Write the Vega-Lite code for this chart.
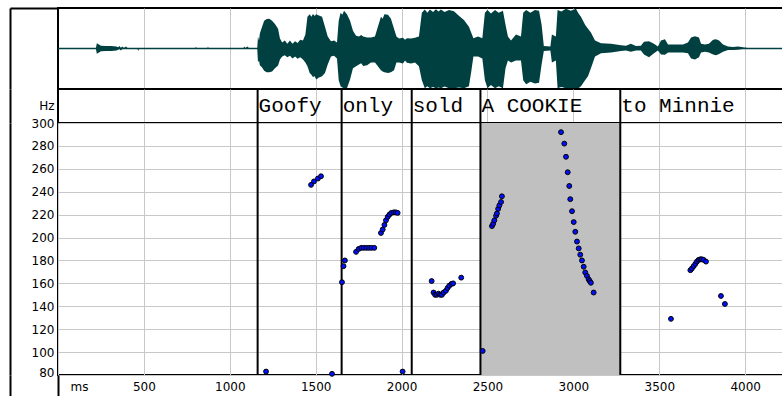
{
  "$schema": "https://vega.github.io/schema/vega-lite/v6.json",
  "autosize": {"type": "pad"},
  "padding": {"left": 8, "top": 6, "right": 0, "bottom": 0},
  "background": "white",
  "spacing": 0,
  "bounds": "flush",
  "config": {
    "view": {"stroke": "#000", "strokeWidth": 2},
    "axis": {
      "labelFont": "DejaVu Sans", "labelFontSize": 12, "labelColor": "#000",
      "titleFont": "DejaVu Sans", "titleFontSize": 12, "titleColor": "#000", "titleFontWeight": "normal",
      "gridColor": "#c8c8c8", "gridWidth": 1, "gridOpacity": 1,
      "ticks": false, "tickSize": 0, "domain": false, "labelFlush": false, "labelOverlap": false
    }
  },
  "datasets": {
    "wave": [
      {"ms":0,"top":0.02,"bot":-0.02},{"ms":221,"top":0.02,"bot":-0.02},{"ms":226,"top":0.13,"bot":-0.13},{"ms":236,"top":0.11,"bot":-0.11},{"ms":250,"top":0.07,"bot":-0.07},{"ms":280,"top":0.06,"bot":-0.06},{"ms":310,"top":0.06,"bot":-0.06},{"ms":340,"top":0.05,"bot":-0.05},{"ms":350,"top":0.03,"bot":-0.03},{"ms":358,"top":0.06,"bot":-0.02},{"ms":366,"top":0.02,"bot":-0.05},{"ms":374,"top":0.05,"bot":-0.02},{"ms":384,"top":0.02,"bot":-0.02},{"ms":396,"top":0.05,"bot":-0.02},{"ms":404,"top":0.02,"bot":-0.02},{"ms":463,"top":0.02,"bot":-0.02},{"ms":467,"top":0.02,"bot":-0.06},{"ms":471,"top":0.02,"bot":-0.02},{"ms":800,"top":0.02,"bot":-0.02},{"ms":803,"top":0.05,"bot":-0.02},{"ms":806,"top":0.02,"bot":-0.02},{"ms":870,"top":0.02,"bot":-0.02},{"ms":873,"top":0.05,"bot":-0.02},{"ms":876,"top":0.02,"bot":-0.02},{"ms":1080,"top":0.02,"bot":-0.02},{"ms":1084,"top":0.05,"bot":-0.02},{"ms":1090,"top":0.02,"bot":-0.02},{"ms":1104,"top":0.05,"bot":-0.02},{"ms":1110,"top":0.02,"bot":-0.02},{"ms":1160,"top":0.02,"bot":-0.02},
      {"ms":1164,"top":0.3,"bot":-0.35},{"ms":1170,"top":0.2,"bot":-0.3},{"ms":1175,"top":0.38,"bot":-0.42},{"ms":1188,"top":0.55,"bot":-0.48},{"ms":1200,"top":0.7,"bot":-0.56},{"ms":1215,"top":0.74,"bot":-0.6},{"ms":1230,"top":0.75,"bot":-0.6},{"ms":1246,"top":0.7,"bot":-0.58},{"ms":1263,"top":0.62,"bot":-0.5},{"ms":1281,"top":0.5,"bot":-0.43},{"ms":1292,"top":0.25,"bot":-0.28},{"ms":1305,"top":0.15,"bot":-0.2},{"ms":1320,"top":0.2,"bot":-0.17},{"ms":1335,"top":0.12,"bot":-0.22},{"ms":1350,"top":0.2,"bot":-0.18},{"ms":1365,"top":0.12,"bot":-0.25},{"ms":1380,"top":0.18,"bot":-0.2},{"ms":1395,"top":0.14,"bot":-0.26},{"ms":1410,"top":0.22,"bot":-0.22},{"ms":1426,"top":0.2,"bot":-0.28},{"ms":1440,"top":0.35,"bot":-0.35},{"ms":1452,"top":0.8,"bot":-0.45},{"ms":1465,"top":0.86,"bot":-0.62},{"ms":1475,"top":0.8,"bot":-0.66},{"ms":1484,"top":0.87,"bot":-0.72},{"ms":1495,"top":0.82,"bot":-0.7},{"ms":1502,"top":0.86,"bot":-0.78},{"ms":1519,"top":0.83,"bot":-0.73},{"ms":1537,"top":0.8,"bot":-0.7},{"ms":1554,"top":0.55,"bot":-0.62},{"ms":1570,"top":0.3,"bot":-0.4},{"ms":1589,"top":0.18,"bot":-0.2},{"ms":1607,"top":0.2,"bot":-0.18},{"ms":1624,"top":0.15,"bot":-0.25},{"ms":1634,"top":0.7,"bot":-0.8},{"ms":1645,"top":0.9,"bot":-0.95},{"ms":1655,"top":0.85,"bot":-0.98},{"ms":1665,"top":0.95,"bot":-1.0},{"ms":1682,"top":0.86,"bot":-1.0},{"ms":1700,"top":0.7,"bot":-0.78},{"ms":1717,"top":0.45,"bot":-0.5},{"ms":1735,"top":0.32,"bot":-0.45},{"ms":1752,"top":0.3,"bot":-0.4},{"ms":1765,"top":0.34,"bot":-0.37},{"ms":1776,"top":0.3,"bot":-0.44},{"ms":1799,"top":0.28,"bot":-0.42},{"ms":1822,"top":0.28,"bot":-0.35},{"ms":1845,"top":0.3,"bot":-0.35},{"ms":1862,"top":0.55,"bot":-0.45},{"ms":1880,"top":0.8,"bot":-0.55},{"ms":1890,"top":0.75,"bot":-0.58},{"ms":1900,"top":0.86,"bot":-0.6},{"ms":1921,"top":0.85,"bot":-0.62},{"ms":1938,"top":0.75,"bot":-0.6},{"ms":1956,"top":0.5,"bot":-0.55},{"ms":1970,"top":0.3,"bot":-0.35},{"ms":1985,"top":0.25,"bot":-0.35},{"ms":2008,"top":0.27,"bot":-0.38},{"ms":2020,"top":0.22,"bot":-0.3},{"ms":2031,"top":0.26,"bot":-0.36},{"ms":2055,"top":0.25,"bot":-0.38},{"ms":2078,"top":0.27,"bot":-0.35},{"ms":2101,"top":0.3,"bot":-0.45},{"ms":2118,"top":0.9,"bot":-0.8},{"ms":2135,"top":0.98,"bot":-1.0},{"ms":2150,"top":0.9,"bot":-0.95},{"ms":2165,"top":0.98,"bot":-1.0},{"ms":2183,"top":0.92,"bot":-0.97},{"ms":2200,"top":0.99,"bot":-1.0},{"ms":2215,"top":0.93,"bot":-0.98},{"ms":2229,"top":0.98,"bot":-1.0},{"ms":2250,"top":0.92,"bot":-0.96},{"ms":2276,"top":0.97,"bot":-1.0},{"ms":2305,"top":0.94,"bot":-1.0},{"ms":2335,"top":0.82,"bot":-0.98},{"ms":2363,"top":0.72,"bot":-1.0},{"ms":2392,"top":0.55,"bot":-0.95},{"ms":2405,"top":0.4,"bot":-0.6},{"ms":2418,"top":0.26,"bot":-0.2},{"ms":2445,"top":0.3,"bot":-0.2},{"ms":2470,"top":0.26,"bot":-0.25},{"ms":2485,"top":0.9,"bot":-0.8},{"ms":2500,"top":0.97,"bot":-1.0},{"ms":2520,"top":0.88,"bot":-0.92},{"ms":2544,"top":0.97,"bot":-1.0},{"ms":2565,"top":0.9,"bot":-0.95},{"ms":2590,"top":0.95,"bot":-1.0},{"ms":2605,"top":0.6,"bot":-0.5},{"ms":2619,"top":0.3,"bot":-0.3},{"ms":2637,"top":0.2,"bot":-0.35},{"ms":2666,"top":0.35,"bot":-0.3},{"ms":2695,"top":0.3,"bot":-0.3},{"ms":2708,"top":0.9,"bot":-0.8},{"ms":2725,"top":0.97,"bot":-0.9},{"ms":2750,"top":0.9,"bot":-0.84},{"ms":2776,"top":0.97,"bot":-0.88},{"ms":2800,"top":0.95,"bot":-0.86},{"ms":2815,"top":0.6,"bot":-0.4},{"ms":2828,"top":0.06,"bot":-0.06},{"ms":2866,"top":0.05,"bot":-0.05},{"ms":2875,"top":0.35,"bot":-0.35},{"ms":2898,"top":0.3,"bot":-0.3},{"ms":2908,"top":0.97,"bot":-1.0},{"ms":2930,"top":0.93,"bot":-0.97},{"ms":2957,"top":1.0,"bot":-1.0},{"ms":2985,"top":0.95,"bot":-1.0},{"ms":3015,"top":1.0,"bot":-1.0},{"ms":3030,"top":0.88,"bot":-1.0},{"ms":3044,"top":0.8,"bot":-0.95},{"ms":3068,"top":0.6,"bot":-0.8},{"ms":3085,"top":0.5,"bot":-0.7},{"ms":3102,"top":0.4,"bot":-0.5},{"ms":3126,"top":0.2,"bot":-0.2},{"ms":3161,"top":0.13,"bot":-0.12},{"ms":3219,"top":0.12,"bot":-0.1},{"ms":3277,"top":0.08,"bot":-0.06},{"ms":3306,"top":0.07,"bot":-0.05},{"ms":3335,"top":0.12,"bot":-0.08},{"ms":3364,"top":0.06,"bot":-0.05},{"ms":3393,"top":0.07,"bot":-0.05},{"ms":3411,"top":0.17,"bot":-0.15},{"ms":3440,"top":0.18,"bot":-0.22},{"ms":3469,"top":0.12,"bot":-0.12},{"ms":3492,"top":0.05,"bot":-0.05},{"ms":3510,"top":0.2,"bot":-0.15},{"ms":3533,"top":0.23,"bot":-0.16},{"ms":3551,"top":0.1,"bot":-0.1},{"ms":3580,"top":0.1,"bot":-0.1},{"ms":3638,"top":0.1,"bot":-0.1},{"ms":3667,"top":0.15,"bot":-0.12},{"ms":3685,"top":0.28,"bot":-0.25},{"ms":3708,"top":0.31,"bot":-0.28},{"ms":3731,"top":0.28,"bot":-0.22},{"ms":3743,"top":0.12,"bot":-0.1},{"ms":3766,"top":0.1,"bot":-0.08},{"ms":3789,"top":0.12,"bot":-0.1},{"ms":3813,"top":0.22,"bot":-0.15},{"ms":3830,"top":0.23,"bot":-0.17},{"ms":3848,"top":0.2,"bot":-0.14},{"ms":3871,"top":0.1,"bot":-0.08},{"ms":3900,"top":0.05,"bot":-0.04},{"ms":3929,"top":0.04,"bot":-0.04},{"ms":3958,"top":0.05,"bot":-0.03},{"ms":3987,"top":0.03,"bot":-0.02},{"ms":4016,"top":0.02,"bot":-0.02},{"ms":4226,"top":0.02,"bot":-0.02}
    ],
    "words": [
      {"ms":1162,"word":"Goofy","tier":"w"},
      {"ms":1651,"word":"only","tier":"w"},
      {"ms":2059,"word":"sold","tier":"w"},
      {"ms":2459,"word":"A COOKIE","tier":"w"},
      {"ms":3273,"word":"to Minnie","tier":"w"}
    ],
    "focus": [{"ms":2459,"ms2":3273}],
    "pitch": [
      {"ms":1211,"hz":83},{"ms":1595,"hz":81},{"ms":1473,"hz":246},{"ms":1490,"hz":249},{"ms":1513,"hz":251.5},{"ms":1531,"hz":253.5},
      {"ms":1653,"hz":161},{"ms":1662,"hz":175},{"ms":1670,"hz":180},{"ms":1735,"hz":187.5},{"ms":1750,"hz":190},{"ms":1765,"hz":191},{"ms":1780,"hz":191},{"ms":1795,"hz":191},{"ms":1810,"hz":191},{"ms":1825,"hz":191},{"ms":1841,"hz":191},{"ms":1880,"hz":204},{"ms":1890,"hz":207},{"ms":1900,"hz":211},{"ms":1909,"hz":215},{"ms":1919,"hz":218},{"ms":1929,"hz":220},{"ms":1940,"hz":221.5},{"ms":1955,"hz":222},{"ms":1966,"hz":222},{"ms":1977,"hz":221.5},{"ms":2006,"hz":83},
      {"ms":2175,"hz":162},{"ms":2186,"hz":152},{"ms":2195,"hz":150},{"ms":2205,"hz":150},{"ms":2215,"hz":151},{"ms":2225,"hz":150},{"ms":2235,"hz":150},{"ms":2245,"hz":152},{"ms":2258,"hz":153.5},{"ms":2268,"hz":156},{"ms":2278,"hz":158},{"ms":2290,"hz":159.5},{"ms":2300,"hz":160},{"ms":2347,"hz":165},
      {"ms":2472,"hz":101},{"ms":2526,"hz":210},{"ms":2533,"hz":212},{"ms":2540,"hz":215},{"ms":2550,"hz":219},{"ms":2555,"hz":221},{"ms":2562,"hz":225},{"ms":2569,"hz":228},{"ms":2579,"hz":231},{"ms":2584,"hz":236},
      {"ms":2928,"hz":292},{"ms":2947,"hz":282},{"ms":2957,"hz":270.5},{"ms":2967,"hz":257},{"ms":2976,"hz":245},{"ms":2982,"hz":233.5},{"ms":2992,"hz":223},{"ms":3002,"hz":213.5},{"ms":3011,"hz":205},{"ms":3021,"hz":196.5},{"ms":3031,"hz":190.5},{"ms":3040,"hz":185},{"ms":3050,"hz":180},{"ms":3060,"hz":174.5},{"ms":3069,"hz":169.5},{"ms":3079,"hz":166.5},{"ms":3089,"hz":163.5},{"ms":3095,"hz":162},{"ms":3102,"hz":160.5},{"ms":3118,"hz":152},
      {"ms":3568,"hz":129},{"ms":3681,"hz":171.5},{"ms":3690,"hz":173},{"ms":3700,"hz":175},{"ms":3710,"hz":177},{"ms":3719,"hz":179},{"ms":3729,"hz":180.5},{"ms":3739,"hz":181},{"ms":3748,"hz":181},{"ms":3758,"hz":180.5},{"ms":3772,"hz":179},{"ms":3859,"hz":149},{"ms":3882,"hz":142}
    ]
  },
  "vconcat": [
    {
      "width": 726, "height": 81,
      "data": {"name": "wave"},
      "mark": {"type": "area", "color": "#004040", "clip": true},
      "encoding": {
        "x": {"field": "ms", "type": "quantitative", "scale": {"domain": [0, 4226], "nice": false, "zero": false},
              "axis": {"values": [500,1000,1500,2000,2500,3000,3500,4000], "labels": false, "grid": true, "title": null}},
        "y": {"field": "top", "type": "quantitative", "scale": {"domain": [-1.02, 1.02], "nice": false, "zero": false},
              "axis": {"orient": "left", "offset": 48, "domain": true, "domainColor": "#000", "domainWidth": 2, "values": [1.02], "ticks": true, "tickSize": -48, "tickColor": "#000", "tickWidth": 2, "labels": false, "grid": false, "title": null}},
        "y2": {"field": "bot"}
      }
    },
    {
      "width": 726, "height": 34,
      "layer": [
        {
          "data": {"name": "words"},
          "mark": {"type": "rule", "color": "#000", "strokeWidth": 2},
          "encoding": {
            "x": {"field": "ms", "type": "quantitative", "scale": {"domain": [0, 4226], "nice": false, "zero": false},
                  "axis": {"values": [500,1000,1500,2000,2500,3000,3500,4000], "labels": false, "grid": true, "title": null}}
          }
        },
        {
          "data": {"name": "words"},
          "mark": {"type": "text", "align": "left", "baseline": "middle", "dx": 1, "font": "Liberation Mono", "fontSize": 21, "color": "#000"},
          "encoding": {
            "x": {"field": "ms", "type": "quantitative", "scale": {"domain": [0, 4226], "nice": false, "zero": false},
                  "axis": {"values": [500,1000,1500,2000,2500,3000,3500,4000], "labels": false, "grid": true, "title": null}},
            "y": {"field": "tier", "type": "nominal",
                  "axis": {"orient": "left", "offset": 48, "domain": true, "domainColor": "#000", "domainWidth": 2, "labels": false, "grid": false, "title": null}},
            "text": {"field": "word"}
          }
        }
      ]
    },
    {
      "width": 726, "height": 252,
      "layer": [
        {
          "data": {"name": "focus"},
          "mark": {"type": "rect", "color": "#c0c0c0"},
          "encoding": {
            "x": {"field": "ms", "type": "quantitative", "scale": {"domain": [0, 4226], "nice": false, "zero": false},
                  "axis": {"values": [0,500,1000,1500,2000,2500,3000,3500,4000], "format": "d", "grid": true, "labelPadding": 6, "labelExpr": "datum.value == 0 ? 'ms' : datum.label", "labelOffset": {"condition": {"test": "datum.value == 0", "value": 21}, "value": 0}, "title": null}},
            "x2": {"field": "ms2"}
          }
        },
        {
          "data": {"name": "words"},
          "mark": {"type": "rule", "color": "#000", "strokeWidth": 2},
          "encoding": {
            "x": {"field": "ms", "type": "quantitative"}
          }
        },
        {
          "data": {"name": "pitch"},
          "mark": {"type": "circle", "fill": "#0010ff", "stroke": "#000", "strokeWidth": 1, "size": 24, "opacity": 1},
          "encoding": {
            "x": {"field": "ms", "type": "quantitative"},
            "y": {"field": "hz", "type": "quantitative", "scale": {"domain": [80, 300], "nice": false, "zero": false},
                  "axis": {"orient": "left", "values": [80,100,120,140,160,180,200,220,240,260,280,300], "grid": true, "labelPadding": 4,
                           "labelOffset": {"condition": {"test": "datum.value == 80", "value": -3}, "value": 0},
                           "title": "Hz", "titleAngle": 0, "titleX": -4, "titleY": -18, "titleAlign": "right", "titleBaseline": "middle"}}
          }
        },
        {
          "data": {"name": "pitch"},
          "mark": {"type": "circle", "opacity": 0},
          "encoding": {
            "x": {"field": "ms", "type": "quantitative"},
            "y": {"field": "hz", "type": "quantitative",
                  "axis": {"orient": "left", "offset": 48, "domain": true, "domainColor": "#000", "domainWidth": 2, "labels": false, "grid": false, "title": null}}
          }
        }
      ],
      "resolve": {"axis": {"y": "independent"}}
    },
    {
      "width": 726, "height": 24,
      "view": {"stroke": null},
      "layer": [
        {
          "data": {"name": "pitch"},
          "mark": {"type": "point", "opacity": 0},
          "encoding": {
            "y": {"field": "hz", "type": "quantitative",
                  "axis": {"orient": "left", "offset": 48, "domain": true, "domainColor": "#000", "domainWidth": 2, "labels": false, "grid": false, "title": null}}
          }
        },
        {
          "data": {"name": "pitch"},
          "mark": {"type": "point", "opacity": 0},
          "encoding": {
            "y": {"field": "hz", "type": "quantitative",
                  "axis": {"orient": "left", "offset": 0, "domain": true, "domainColor": "#000", "domainWidth": 2, "labels": false, "grid": false, "title": null}}
          }
        }
      ],
      "resolve": {"axis": {"y": "independent"}}
    }
  ]
}
